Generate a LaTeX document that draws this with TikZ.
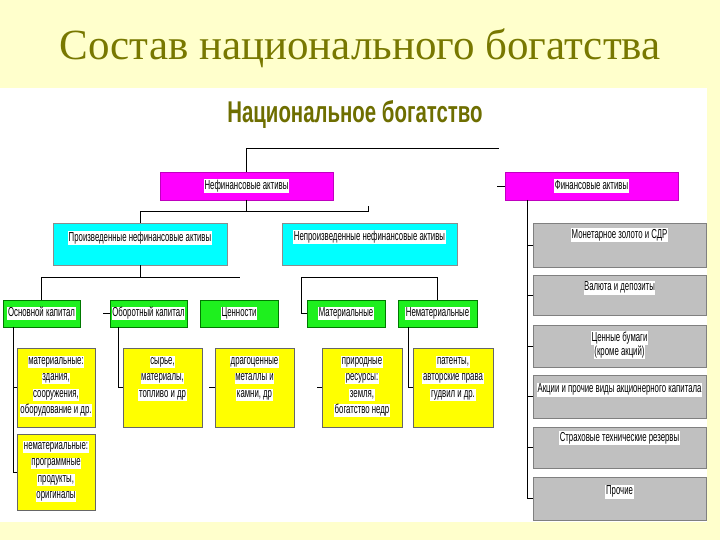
\documentclass[tikz,border=0pt]{standalone}
\usepackage{fontspec}
\setmainfont{Liberation Serif}
\newfontfamily\labfont[FakeStretch=0.6]{Liberation Sans}
\newfontfamily\subfont[FakeStretch=0.68]{Liberation Sans}
\definecolor{bgY}{RGB}{255,255,204}
\definecolor{titleC}{RGB}{120,120,0}
\definecolor{subC}{RGB}{110,110,0}
\definecolor{magC}{RGB}{255,0,255}
\definecolor{cyanC}{RGB}{0,255,255}
\definecolor{grnC}{RGB}{30,240,30}
\definecolor{grnD}{RGB}{0,120,0}
\definecolor{yelC}{RGB}{255,255,0}
\definecolor{gryC}{RGB}{192,192,192}
\newcommand\wl[1]{{\setlength\fboxsep{0.6pt}\colorbox{white}{\rule[-3pt]{0pt}{10.5pt}#1}}}
\begin{document}
\begin{tikzpicture}[x=1pt,y=-1pt,
  box/.style={anchor=north west, inner sep=0pt, outer sep=0pt, line width=0.7pt,
    font=\labfont\fontsize{13}{16.5}\selectfont, align=center},
  mag/.style={box, fill=magC, draw=magC!75!black},
  cyn/.style={box, fill=cyanC, draw=black!45},
  grn/.style={box, fill=grnC, draw=grnD},
  yel/.style={box, fill=yelC, draw=black!60},
  gry/.style={box, fill=gryC, draw=black!50},
  lbl/.style={font=\labfont\fontsize{13}{16.5}\selectfont, align=center, inner sep=0pt},
  con/.style={draw=black, line width=0.8pt}]
\useasboundingbox (0,0) rectangle (720,540);
\fill[bgY] (0,0) rectangle (720,540);
\fill[white] (0,88) rectangle (707,522);

% titles
\node[font=\fontsize{43}{50}\selectfont, text=titleC] (title) at (360,48) {Состав национального богатства};
\node[font=\subfont\bfseries\fontsize{30}{34}\selectfont, text=subC] (nat) at (355,114) {Национальное богатство};

% level 1
\node[mag, minimum width=173, minimum height=28] (nef) at (160,172) {\wl{Нефинансовые активы}};
\node[mag, minimum width=173, minimum height=28] (fin) at (505,172) {\wl{Финансовые активы}};

% level 2
\node[cyn, minimum width=174, minimum height=42] (prod) at (53,223) {};
\node[lbl] (tprod) at ([yshift=-15pt]prod.north) {\wl{Произведенные нефинансовые активы}};
\node[cyn, minimum width=175, minimum height=42] (nprod) at (282,223) {};
\node[lbl] (tnprod) at ([yshift=-14pt]nprod.north) {\wl{Непроизведенные нефинансовые активы}};

% level 3
\node[grn, minimum width=77, minimum height=27] (osn) at (3,300) {\wl{Основной капитал}};
\node[grn, minimum width=77, minimum height=27] (obor) at (110,300) {\wl{Оборотный капитал}};
\node[grn, minimum width=78, minimum height=27] (cen) at (200,300) {\wl{Ценности}};
\node[grn, minimum width=78, minimum height=27] (mat) at (307,300) {\wl{Материальные}};
\node[grn, minimum width=79, minimum height=27] (nemat) at (398,300) {\wl{Нематериальные}};

% level 4 (yellow)
\node[yel, minimum width=78, minimum height=79] (y1) at (17,348) {};
\node[lbl, anchor=north] (ty1) at ([yshift=-8pt]y1.north) {\wl{материальные:}\\\wl{здания,}\\\wl{сооружения,}\\\wl{оборудование и др.}};
\node[yel, minimum width=78, minimum height=76] (y2) at (17,434) {};
\node[lbl, anchor=north] (ty2) at ([yshift=-7pt]y2.north) {\wl{нематериальные:}\\\wl{программные}\\\wl{продукты,}\\\wl{оригиналы}};
\node[yel, minimum width=79, minimum height=79] (y3) at (123,348) {};
\node[lbl, anchor=north] (ty3) at ([yshift=-8pt]y3.north) {\wl{сырье,}\\\wl{материалы,}\\\wl{топливо и др}};
\node[yel, minimum width=79, minimum height=79] (y4) at (215,348) {};
\node[lbl, anchor=north] (ty4) at ([yshift=-8pt]y4.north) {\wl{драгоценные}\\\wl{металлы и}\\\wl{камни, др}};
\node[yel, minimum width=80, minimum height=79] (y5) at (322,348) {};
\node[lbl, anchor=north] (ty5) at ([yshift=-8pt]y5.north) {\wl{природные}\\\wl{ресурсы:}\\\wl{земля,}\\\wl{богатство недр}};
\node[yel, minimum width=80, minimum height=79] (y6) at (413,348) {};
\node[lbl, anchor=north] (ty6) at ([yshift=-8pt]y6.north) {\wl{патенты,}\\\wl{авторские права}\\\wl{гудвил и др.}};

% financial (gray)
\node[gry, minimum width=173, minimum height=44] (g1) at (533,223) {};
\node[lbl] (tg1) at ([yshift=-12pt]g1.north) {\wl{Монетарное золото и СДР}};
\node[gry, minimum width=173, minimum height=40] (g2) at (533,275) {};
\node[lbl] (tg2) at ([yshift=-13pt]g2.north) {\wl{Валюта и депозиты}};
\node[gry, minimum width=173, minimum height=42] (g3) at (533,325) {};
\node[lbl, anchor=north] (tg3) at ([yshift=-6pt]g3.north) {\wl{Ценные бумаги}\\[-2.5pt]\wl{(кроме акций)}};
\node[gry, minimum width=173, minimum height=43] (g4) at (533,375) {};
\node[lbl] (tg4) at ([yshift=-15pt]g4.north) {\wl{Акции и прочие виды акционерного капитала}};
\node[gry, minimum width=173, minimum height=41] (g5) at (533,427) {};
\node[lbl] (tg5) at ([yshift=-11pt]g5.north) {\wl{Страховые технические резервы}};
\node[gry, minimum width=173, minimum height=43] (g6) at (533,477) {};
\node[lbl] (tg6) at ([yshift=-15pt]g6.north) {\wl{Прочие}};

% connectors
\coordinate (natR) at (499,148);
\draw[con] (nef.north) |- (natR);
\draw[con] (fin.west) -- ++(-8,0);

\coordinate (j1) at (nef.south |- 0,211);
\coordinate (j1R) at (368,211);
\draw[con] (nef.south) -- (j1);
\draw[con] (prod.north) |- (j1R) -- ++(0,-5);

\coordinate (j2) at (prod.south |- 0,277);
\coordinate (j2R) at (240,277);
\draw[con] (prod.south) -- (j2);
\draw[con] (osn.north) |- (j2R);
\draw[con] (obor.west) -- ++(-7,0);

\coordinate (j3) at (301,277);
\draw[con] (mat.west) -| (j3) -| (nemat.north);

\coordinate (osnL) at ([xshift=10pt]osn.south west);
\draw[con] (osnL) |- (y2.west);
\draw[con] (y1.west) -- (y1.west -| osnL);
\coordinate (oborL) at ([xshift=8pt]obor.south west);
\draw[con] (oborL) |- (y3.west);
\draw[con] (y4.west) -- ++(-6,0);
\draw[con] (y5.west) -- ++(-5,0);
\coordinate (nematL) at ([xshift=10pt]nemat.south west);
\draw[con] (nematL) |- (y6.west);

\coordinate (finL) at ([xshift=22pt]fin.south west);
\draw[con] (finL) |- (g6.west);
\foreach \g in {g1,g2,g3,g4,g5}{\draw[con] (\g.west) -- (\g.west -| finL);}
\end{tikzpicture}
\end{document}
